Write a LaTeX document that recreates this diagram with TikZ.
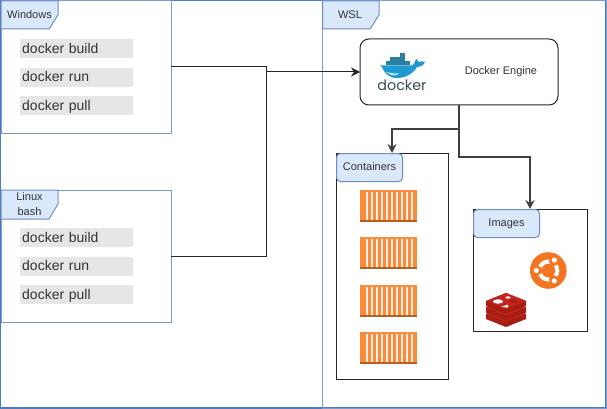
\documentclass[tikz,border=0pt]{standalone}
\usepackage{fontspec}
\setmainfont{Liberation Sans}
\newfontfamily\dockerfont{Poppins}
\usetikzlibrary{arrows.meta}
\definecolor{framecol}{HTML}{4A7BC8}
\definecolor{panelcol}{HTML}{7C9BD0}
\definecolor{tabfill}{HTML}{DAE8FC}
\definecolor{tabline}{HTML}{6C8EBF}
\definecolor{cmdfill}{HTML}{E6E6E6}
\definecolor{inkcol}{HTML}{333333}
\definecolor{crateor}{HTML}{F98B3A}
\definecolor{cratedk}{HTML}{B85E1E}
\definecolor{whale}{HTML}{1E9AD0}
\definecolor{whaledk}{HTML}{2A7F9E}
\definecolor{dockerink}{HTML}{394D54}
\definecolor{ubuntuor}{HTML}{F47421}
\definecolor{redisdk}{HTML}{A41E11}
\definecolor{redistop}{HTML}{C6221C}
\tikzset{
  panel/.style={draw=panelcol, line width=1pt, anchor=north west, inner sep=0pt, outer sep=0pt},
  blackbox/.style={draw=black!85, line width=1pt, anchor=north west, inner sep=0pt, outer sep=0pt},
  cmd/.style={fill=cmdfill, anchor=north west, text width=109pt, text height=11.5pt, text depth=2.5pt, minimum height=19pt, inner xsep=2pt, inner ysep=0pt, align=left, text=inkcol, font=\fontsize{14}{16}\selectfont},
  tabtext/.style={text=inkcol, align=center, inner sep=0pt, font=\fontsize{11}{15}\selectfont},
  tabshape/.style={fill=tabfill, draw=tabline, line width=1pt},
  roundtab/.style={tabshape, rounded corners=4pt, anchor=north west, minimum width=66pt, minimum height=28pt, text height=8pt, text depth=2.5pt, inner sep=0pt, text=inkcol, font=\fontsize{11}{13}\selectfont},
  conn/.style={draw=black!75, line width=1.3pt, -{Stealth[length=9pt,width=9pt]}},
  link/.style={draw=black!85, line width=1pt},
  pics/crate/.style={code={
    \fill[crateor] (0,0) rectangle (57,29.5);
    \foreach \s in {5,10,...,50}{
      \fill[white!85!crateor] (\s+1,1.5) rectangle (\s+2.7,29.5);
    }
    \fill[cratedk] (0,29.5) rectangle (57,32);
  }}
}
\begin{document}
\begin{tikzpicture}[x=1pt, y=-1pt]
\useasboundingbox (0,0) rectangle (607,409);
\fill[white] (0,0) rectangle (607,409);

% outer frame
\draw[framecol, line width=1.2pt] (0.5,0.7) rectangle (606,408);

% Windows side
\node[panel, minimum width=170pt, minimum height=132pt] (win) at (1,1) {};
\draw[tabshape] (1,1) -- (58,1) -- (58,15) -- (49,29) -- (1,29) -- cycle;
\node[tabtext] (wintab) at (29.5,15) {Windows};
\foreach \n/\txt/\ypos in {a/docker build/39, b/docker run/67.5, c/docker pull/96}{
  \node[cmd] (win\n) at (20,\ypos) {\txt};
}

% Linux side
\node[panel, minimum width=170pt, minimum height=132pt] (linux) at (1,190) {};
\draw[tabshape] (1,190) -- (58,190) -- (58,204) -- (49,219) -- (1,219) -- cycle;
\node[tabtext] (linuxtab) at (29.5,204.5) {Linux\\bash};
\foreach \n/\txt/\ypos in {a/docker build/228, b/docker run/256.5, c/docker pull/285}{
  \node[cmd] (linux\n) at (20,\ypos) {\txt};
}

% WSL side
\node[panel, minimum width=284pt, minimum height=407pt] (wsl) at (322.5,1) {};
\draw[tabshape] (322.5,1) -- (379,1) -- (379,15) -- (370,29) -- (322.5,29) -- cycle;
\node[tabtext] (wsltab) at (350,15) {WSL};

% Engine with whale
\node[draw=black!85, line width=1pt, rounded corners=9pt, anchor=north west, minimum width=198pt, minimum height=66pt, inner sep=0pt, outer sep=0pt] (engine) at (360,39) {};
\node[text=inkcol, inner sep=0pt, font=\fontsize{11}{13}\selectfont] (enginetxt) at (501,72) {Docker Engine};
\fill[whaledk] (400,53) rectangle (405,57);
\fill[whaledk] (390,57) rectangle (405,61);
\fill[whaledk] (386,61) rectangle (410,65);
\fill[whale] (380,65.5) -- (411,65.5) .. controls (414,65.5) and (415,62) .. (416,59) .. controls (417,60) and (418,61) .. (419,62) .. controls (421,61) and (424,61) .. (425,62) .. controls (424,65) and (420,67) .. (417,67) .. controls (413,74) and (405,78) .. (397,78) .. controls (389,78) and (384,73) .. (382,67) -- cycle;
\fill[white!70!whale] (386,72) .. controls (392,73) and (396,74) .. (399,73) .. controls (397,77) and (391,76) .. (386,72) -- cycle;
\node[text=dockerink, inner sep=0pt, font=\dockerfont\fontsize{14.3}{15}\selectfont] (dockertxt) at (402,85.5) {docker};

% Containers
\node[blackbox, minimum width=112pt, minimum height=226pt] (ctrbox) at (336,153) {};
\node[roundtab] (ctrtab) at (336,153) {Containers};
\foreach \ypos in {190, 237, 285, 332}{
  \pic at (360,\ypos) {crate};
}

% Images
\node[blackbox, minimum width=114pt, minimum height=122pt] (imgbox) at (473,209) {};
\node[roundtab] (imgtab) at (473,209) {Images};

% ubuntu mark
\fill[ubuntuor] (548.3,270.5) circle (18.3);
\draw[white, line width=4pt] (548.3,270.5) circle (9);
\foreach \ang in {180, 60, -60}{
  \fill[ubuntuor] (548.3,270.5) ++(\ang:10.5) circle (4.6);
  \fill[white] (548.3,270.5) ++(\ang:12) circle (2.6);
}

% redis stack
\foreach \dy in {13, 6.5, 0}{
  \fill[redisdk] (486,301+\dy) -- (506,293+\dy) -- (526,301+\dy) -- (526,306+\dy) -- (506,314+\dy) -- (486,306+\dy) -- cycle;
  \fill[redistop] (486,301+\dy) -- (506,293+\dy) -- (526,301+\dy) -- (506,309+\dy) -- cycle;
}
\fill[white] (498,301.5) ellipse (5 and 2.2);
\fill[white] (501,307) -- (508,304.5) -- (508,307.5) -- cycle;
\fill[white] (508,297.5) ellipse (2.5 and 1.2);
\fill[redisdk] (509,301) -- (514,299) -- (518,301) -- (514,303) -- cycle;

% connectors
\coordinate (join) at (266,72);
\draw[link] (win.east) -| (join);
\draw[link] (linux.east) -| (join);
\draw[link, -{Stealth[length=9pt,width=9pt]}] (join) -- (engine.west);
\draw[conn] (engine.south) -- ++(0,24) -| (ctrbox.north);
\draw[conn] (engine.south) -- ++(0,52) -| (imgbox.north);

\end{tikzpicture}
\end{document}
